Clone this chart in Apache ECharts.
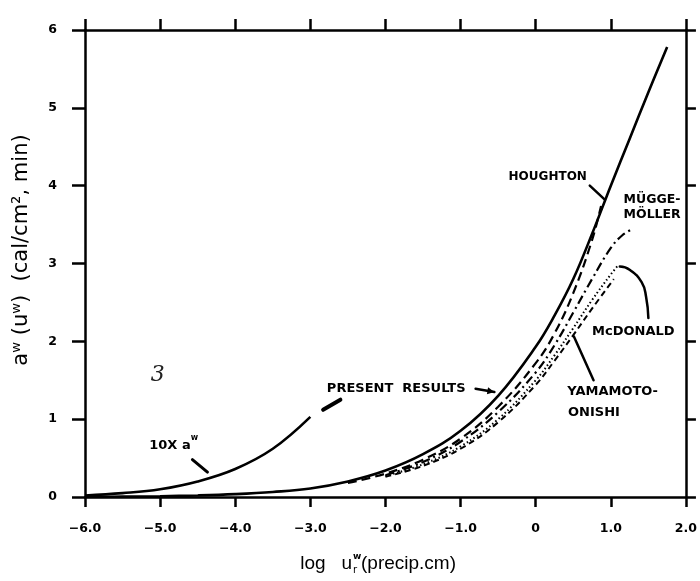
<!DOCTYPE html>
<html><head><meta charset="utf-8">
<script src="https://cdn.jsdelivr.net/npm/echarts@6/dist/echarts.min.js"></script>
<style>html,body{margin:0;padding:0;background:#fff}#c{width:700px;height:581px}</style>
</head><body><div id="c"></div>
<script>
// ---- axis ticks ----
const xTicks = [-6, -5, -4, -3, -2, -1, 0, 1, 2];
const xTickLabels = ['−6.0', '−5.0', '−4.0', '−3.0', '−2.0', '−1.0', '0', '1.0', '2.0'];
const yTickLabels = ['0', '1', '2', '3', '4', '5', '6'];

// ---- series (log u, a) ----
const presentX = [-6, -5.5, -5, -4.5, -4, -3.5, -3, -2.5, -2, -1.5, -1, -0.5, 0, 0.25, 0.5, 0.75, 1.0, 1.25, 1.5, 1.75];
const presentY = [0.002, 0.005, 0.01, 0.02, 0.037, 0.065, 0.11, 0.2, 0.34, 0.55, 0.85, 1.3, 1.93, 2.33, 2.8, 3.38, 4.0, 4.6, 5.2, 5.78];

const tenX = [-6, -5.5, -5, -4.5, -4, -3.5, -3];
const tenY = [0.02, 0.05, 0.1, 0.2, 0.36, 0.62, 1.03];

const houghtonX = [-2.5, -2, -1.5, -1, -0.5, 0, 0.25, 0.5, 0.75, 0.87];
const houghtonY = [0.18, 0.3, 0.48, 0.75, 1.16, 1.72, 2.1, 2.62, 3.3, 3.74];

const muggeX = [-2, -1.5, -1, -0.5, 0, 0.25, 0.5, 0.75, 1.0, 1.15, 1.3];
const muggeY = [0.28, 0.45, 0.71, 1.09, 1.6, 1.95, 2.37, 2.8, 3.2, 3.36, 3.45];

const mcdonaldX = [-2, -1.5, -1, -0.5, 0, 0.25, 0.5, 0.75, 1.0, 1.1];
const mcdonaldY = [0.27, 0.42, 0.65, 1.0, 1.5, 1.82, 2.17, 2.53, 2.86, 2.98];

const yamamotoX = [-2, -1.5, -1, -0.5, 0, 0.25, 0.5, 0.75, 1.04];
const yamamotoY = [0.26, 0.4, 0.62, 0.96, 1.44, 1.75, 2.08, 2.42, 2.8];

// ---- annotations (data coordinates) ----
const annTexts = ['HOUGHTON', 'MÜGGE-', 'MÖLLER', 'McDONALD', 'YAMAMOTO-', 'ONISHI', 'PRESENT  RESULTS'];
const annX = [0.16, 1.17, 1.17, 1.3, 0.42, 0.43, -2.78];
const annY = [4.11, 3.82, 3.62, 2.12, 1.35, 1.08, 1.39];
const annAlign = ['center', 'left', 'left', 'center', 'left', 'left', 'left'];
const annSize = [12, 12.5, 12.5, 13, 13, 13, 13];

const tenLabelPos = [-4.82, 0.69];
const scribblePos = [-5.03, 1.56];

const ptrHoughton = [[0.72, 4.0], [0.92, 3.82]];
const ptrMcDonald = [[1.12, 2.96], [1.25, 2.92], [1.41, 2.76], [1.47, 2.57], [1.5, 2.3]];
const ptrYamamoto = [[0.77, 1.5], [0.51, 2.06]];
const ptrPresent1 = [[-0.8, 1.39], [-0.55, 1.35]];
const ptrPresent2 = [[-2.83, 1.12], [-2.6, 1.25]];
const ptrTen = [[-4.57, 0.48], [-4.37, 0.32]];

const zip = (xs, ys) => xs.map((x, i) => [x, ys[i]]);

const chart = echarts.init(document.getElementById('c'), null, {renderer: 'canvas'});
const lblFont = {color: '#000', fontFamily: 'DejaVu Sans', fontWeight: 'bold', fontSize: 12.5};
const axLine = {show: true, onZero: false, lineStyle: {color: '#000', width: 2.5}};

function line(name, data, type, width) {
  return {
    name, type: 'line', data, showSymbol: false, symbol: 'none', smooth: 0.4,
    lineStyle: {color: '#000', width: width, type: type, cap: 'butt'},
    animation: false, z: 3
  };
}

chart.setOption({
  animation: false,
  backgroundColor: '#fff',
  grid: {left: 85, right: 10, top: 30, bottom: 84},
  xAxis: [{
    type: 'value', min: -6, max: 2, interval: 1, position: 'bottom',
    axisLine: axLine,
    axisTick: {show: true, inside: false, length: 10, lineStyle: {color: '#000', width: 2.5}},
    axisLabel: Object.assign({margin: 25, formatter: v => xTickLabels[xTicks.indexOf(Math.round(v))]}, lblFont),
    splitLine: {show: false}
  }, {
    type: 'value', min: -6, max: 2, interval: 1, position: 'top',
    axisLine: axLine,
    axisTick: {show: true, inside: false, length: 11, lineStyle: {color: '#000', width: 2.5}},
    axisLabel: {show: false}, splitLine: {show: false}
  }],
  yAxis: [{
    type: 'value', min: 0, max: 6, interval: 1, position: 'left',
    axisLine: axLine,
    axisTick: {show: true, inside: false, length: 13, lineStyle: {color: '#000', width: 2.5}},
    axisLabel: Object.assign({margin: 28, formatter: v => yTickLabels[Math.round(v)]}, lblFont),
    splitLine: {show: false}
  }, {
    type: 'value', min: 0, max: 6, interval: 1, position: 'right',
    axisLine: axLine,
    axisTick: {show: true, inside: false, length: 10, lineStyle: {color: '#000', width: 2.5}},
    axisLabel: {show: false}, splitLine: {show: false}
  }],
  series: [
    line('Present results', zip(presentX, presentY), 'solid', 2.6),
    line('10 x a', zip(tenX, tenY), 'solid', 2.6),
    line('Houghton', zip(houghtonX, houghtonY), [9, 5], 2.2),
    line('Mügge-Möller', zip(muggeX, muggeY), [9, 4, 2, 4], 2.2),
    line('McDonald', zip(mcdonaldX, mcdonaldY), [1.5, 2.5], 2),
    line('Yamamoto-Onishi', zip(yamamotoX, yamamotoY), [6, 4], 2)
  ]
});

const P = p => chart.convertToPixel({gridIndex: 0}, p);
const g = [];
annTexts.forEach((t, i) => {
  const p = P([annX[i], annY[i]]);
  g.push({type: 'text', x: p[0], y: p[1], z: 10,
    style: {text: t, font: 'bold ' + annSize[i] + 'px "DejaVu Sans"', fill: '#000', align: annAlign[i], verticalAlign: 'middle'}});
});
// 10X a^w
{
  const p = P(tenLabelPos);
  g.push({type: 'text', x: p[0], y: p[1], z: 10,
    style: {text: '{b|10X a}{s|w}', align: 'center', verticalAlign: 'middle',
      rich: {b: {font: 'bold 13px "DejaVu Sans"', fill: '#000', lineHeight: 18, verticalAlign: 'bottom'},
             s: {font: 'bold 8px "DejaVu Sans"', fill: '#000', lineHeight: 18, verticalAlign: 'top'}}}});
}
{
  const p = P(scribblePos);
  g.push({type: 'text', x: p[0], y: p[1], z: 10,
    style: {text: '3', font: 'italic 22px "DejaVu Serif"', fill: '#222', align: 'center', verticalAlign: 'middle'}});
}
function poly(pts, w, smooth) {
  g.push({type: 'polyline', z: 10, shape: {points: pts.map(P), smooth: smooth || 0},
    style: {stroke: '#000', lineWidth: w, fill: null, lineCap: 'round'}});
}
poly(ptrHoughton, 2.5);
poly(ptrMcDonald, 2.5, 0.5);
poly(ptrYamamoto, 2.5);
poly(ptrPresent1, 2.5);
poly(ptrPresent2, 4);
poly(ptrTen, 3);
// arrow head on present results pointer
{
  const a = P(ptrPresent1[0]), b = P(ptrPresent1[1]);
  const ang = Math.atan2(b[1] - a[1], b[0] - a[0]);
  const L = 7, W = 3.5;
  const p1 = [b[0] - L * Math.cos(ang) + W * Math.sin(ang), b[1] - L * Math.sin(ang) - W * Math.cos(ang)];
  const p2 = [b[0] - L * Math.cos(ang) - W * Math.sin(ang), b[1] - L * Math.sin(ang) + W * Math.cos(ang)];
  g.push({type: 'polygon', z: 10, shape: {points: [b, p1, p2]}, style: {fill: '#000'}});
}
// axis titles
g.push({type: 'text', x: 22, y: 250, rotation: Math.PI / 2, z: 10,
  style: {text: 'aʷ (uʷ)  (cal/cm², min)', font: '21px "DejaVu Sans"', fill: '#000', align: 'center', verticalAlign: 'middle'}});
g.push({type: 'text', x: 352, y: 564, z: 10,
  style: {text: 'log   u', font: '19px "Liberation Sans"', fill: '#000', align: 'right', verticalAlign: 'middle'}});
g.push({type: 'text', x: 353, y: 557, z: 10,
  style: {text: 'w', font: 'bold 9px "DejaVu Sans"', fill: '#000', align: 'left', verticalAlign: 'middle'}});
g.push({type: 'text', x: 353, y: 570, z: 10,
  style: {text: 'r', font: '10px "DejaVu Sans"', fill: '#000', align: 'left', verticalAlign: 'middle'}});
g.push({type: 'text', x: 361, y: 564, z: 10,
  style: {text: '(precip.cm)', font: '19px "Liberation Sans"', fill: '#000', align: 'left', verticalAlign: 'middle'}});

chart.setOption({graphic: g});
</script>
</body></html>
